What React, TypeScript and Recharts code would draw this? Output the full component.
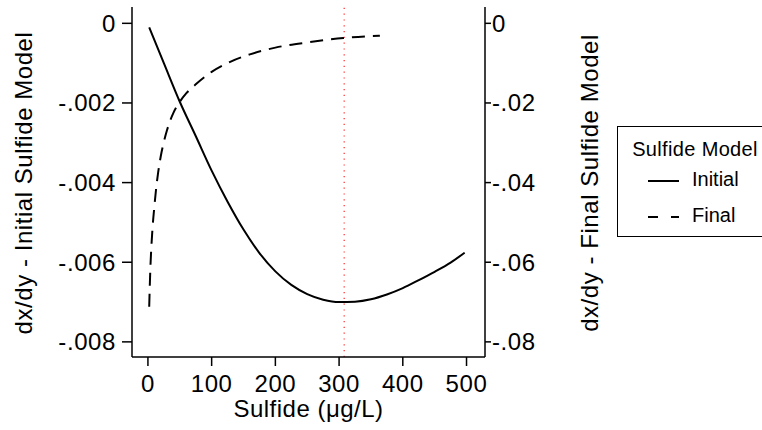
import React from "react";
import { ComposedChart, Line, XAxis, YAxis, ReferenceLine, Legend, Label } from "recharts";

const FONT = "'Liberation Sans', Arial, Helvetica, sans-serif";

// Initial sulfide model (left axis)
const initialX = [2, 25, 50, 75, 100, 125, 150, 175, 200, 225, 250, 275, 300, 325, 350, 375, 400, 425, 450, 475, 497];
const initialY = [
  -0.0001, -0.001, -0.00197, -0.00283, -0.0037, -0.00448, -0.00518, -0.00577, -0.00623, -0.00657,
  -0.0068, -0.00694, -0.007, -0.00699, -0.00693, -0.00681, -0.00665, -0.00645, -0.00624, -0.00601, -0.00576,
];

// Final sulfide model (right axis)
const finalX = [2, 3, 4, 5.5, 7.5, 10, 13, 16, 20, 25, 30, 35, 40, 50, 60, 76, 100, 130, 160, 200, 250, 307, 364];
const finalY = [
  -0.0712, -0.0655, -0.0608, -0.0558, -0.0508, -0.0462, -0.0413, -0.0375, -0.0335, -0.0298, -0.0268,
  -0.0244, -0.0225, -0.0197, -0.0176, -0.0152, -0.0122, -0.0096, -0.0078, -0.0061, -0.0048, -0.0037, -0.0031,
];

const xTicks = [0, 100, 200, 300, 400, 500];
const leftTicks = [0, -0.002, -0.004, -0.006, -0.008];
const rightTicks = [0, -0.02, -0.04, -0.06, -0.08];
const optimumSulfide = 308;

const seriesNames = ["Initial", "Final"];
const seriesDash = ["", "10 13"];

const initialData = initialX.map((x, i) => ({ x, y: initialY[i] }));
const finalData = finalX.map((x, i) => ({ x, y: finalY[i] }));

const fmt = (v: number, digits: number) =>
  v === 0 ? "0" : v.toFixed(digits).replace("-0.", "-.").replace(/^0\./, ".");

const tickStyle = { fontSize: 24, fill: "#000", fontFamily: FONT, letterSpacing: 0.6 };

function VerticalTitle({ x, y, text }: { x: number; y: number; text: string }) {
  return (
    <text
      x={x}
      y={y}
      transform={`rotate(-90 ${x} ${y})`}
      textAnchor="middle"
      fontSize={24}
      letterSpacing={0.55}
      fontFamily={FONT}
      fill="#000"
    >
      {text}
    </text>
  );
}

function LegendBox() {
  return (
    <div
      style={{
        width: 145,
        height: 111,
        boxSizing: "border-box",
        borderTop: "1px solid #000",
        borderLeft: "1px solid #000",
        borderBottom: "1px solid #000",
        background: "#fff",
      }}
    >
      <svg width={144} height={109} style={{ display: "block" }}>
        <text x={77} y={29} textAnchor="middle" fontSize={20} letterSpacing={0.35} fontFamily={FONT} fill="#000">
          Sulfide Model
        </text>
        {seriesNames.map((name, i) => (
          <g key={name}>
            <line
              x1={30}
              x2={61}
              y1={54 + i * 36}
              y2={54 + i * 36}
              stroke="#000"
              strokeWidth={2}
              strokeDasharray={seriesDash[i] || undefined}
            />
            <text x={74} y={59 + i * 36} fontSize={20} fontFamily={FONT} fill="#000">
              {name}
            </text>
          </g>
        ))}
      </svg>
    </div>
  );
}

export default function App() {
  return (
    <div style={{ position: "absolute", left: 0, top: 0, width: 762, height: 430, background: "#fff" }}>
      <ComposedChart width={762} height={430} margin={{ top: 7, right: 162, bottom: 0, left: 0 }}>
        <XAxis
          xAxisId="top"
          orientation="top"
          type="number"
          dataKey="x"
          domain={[-25, 529]}
          allowDataOverflow
          tick={false}
          tickLine={false}
          height={0}
          axisLine={{ stroke: "#000", strokeWidth: 1.5 }}
        />
        <XAxis
          type="number"
          dataKey="x"
          domain={[-25, 529]}
          allowDataOverflow
          ticks={xTicks}
          tick={tickStyle}
          tickSize={9}
          tickMargin={9}
          height={73}
          axisLine={{ stroke: "#000", strokeWidth: 1.5 }}
          tickLine={{ stroke: "#000", strokeWidth: 1.5 }}
        >
          <Label
            value="Sulfide (μg/L)"
            position="insideBottom"
            offset={13}
            style={{ fontSize: 24, fill: "#000", fontFamily: FONT, letterSpacing: 0.5 }}
          />
        </XAxis>
        <YAxis
          yAxisId="left"
          orientation="left"
          domain={[-0.00838, 0.00041]}
          allowDataOverflow
          ticks={leftTicks}
          tickFormatter={(v: number) => fmt(v, 3)}
          tick={tickStyle}
          width={132}
          tickSize={10}
          tickMargin={6}
          axisLine={{ stroke: "#000", strokeWidth: 1.5 }}
          tickLine={{ stroke: "#000", strokeWidth: 1.5 }}
        >
          <Label
            content={(p: any) => (
              <VerticalTitle
                x={p.viewBox.x + 32}
                y={p.viewBox.y + p.viewBox.height / 2 + 1}
                text="dx/dy - Initial Sulfide Model"
              />
            )}
          />
        </YAxis>
        <YAxis
          yAxisId="right"
          orientation="right"
          domain={[-0.0838, 0.0041]}
          allowDataOverflow
          ticks={rightTicks}
          tickFormatter={(v: number) => fmt(v, 2)}
          tick={tickStyle}
          width={115}
          tickSize={6}
          tickMargin={1}
          axisLine={{ stroke: "#000", strokeWidth: 1.5 }}
          tickLine={{ stroke: "#000", strokeWidth: 1.5 }}
        >
          <Label
            content={(p: any) => (
              <VerticalTitle
                x={p.viewBox.x + p.viewBox.width - 2}
                y={p.viewBox.y + p.viewBox.height / 2 + 1}
                text="dx/dy - Final Sulfide Model"
              />
            )}
          />
        </YAxis>
        <ReferenceLine
          x={optimumSulfide}
          yAxisId="left"
          stroke="#ff2a2a"
          strokeWidth={1.2}
          strokeDasharray="1.2 4.6"
        />
        <Line
          yAxisId="left"
          data={initialData}
          dataKey="y"
          name={seriesNames[0]}
          type="monotone"
          stroke="#000"
          strokeWidth={2}
          dot={false}
          activeDot={false}
          isAnimationActive={false}
        />
        <Line
          yAxisId="right"
          data={finalData}
          dataKey="y"
          name={seriesNames[1]}
          type="monotone"
          stroke="#000"
          strokeWidth={2}
          strokeDasharray="13 8"
          dot={false}
          activeDot={false}
          isAnimationActive={false}
        />
        <Legend
          layout="vertical"
          align="center"
          verticalAlign="middle"
          content={() => <LegendBox />}
          wrapperStyle={{ left: 617, top: 126, width: 145, height: 111 }}
        />
      </ComposedChart>
    </div>
  );
}
